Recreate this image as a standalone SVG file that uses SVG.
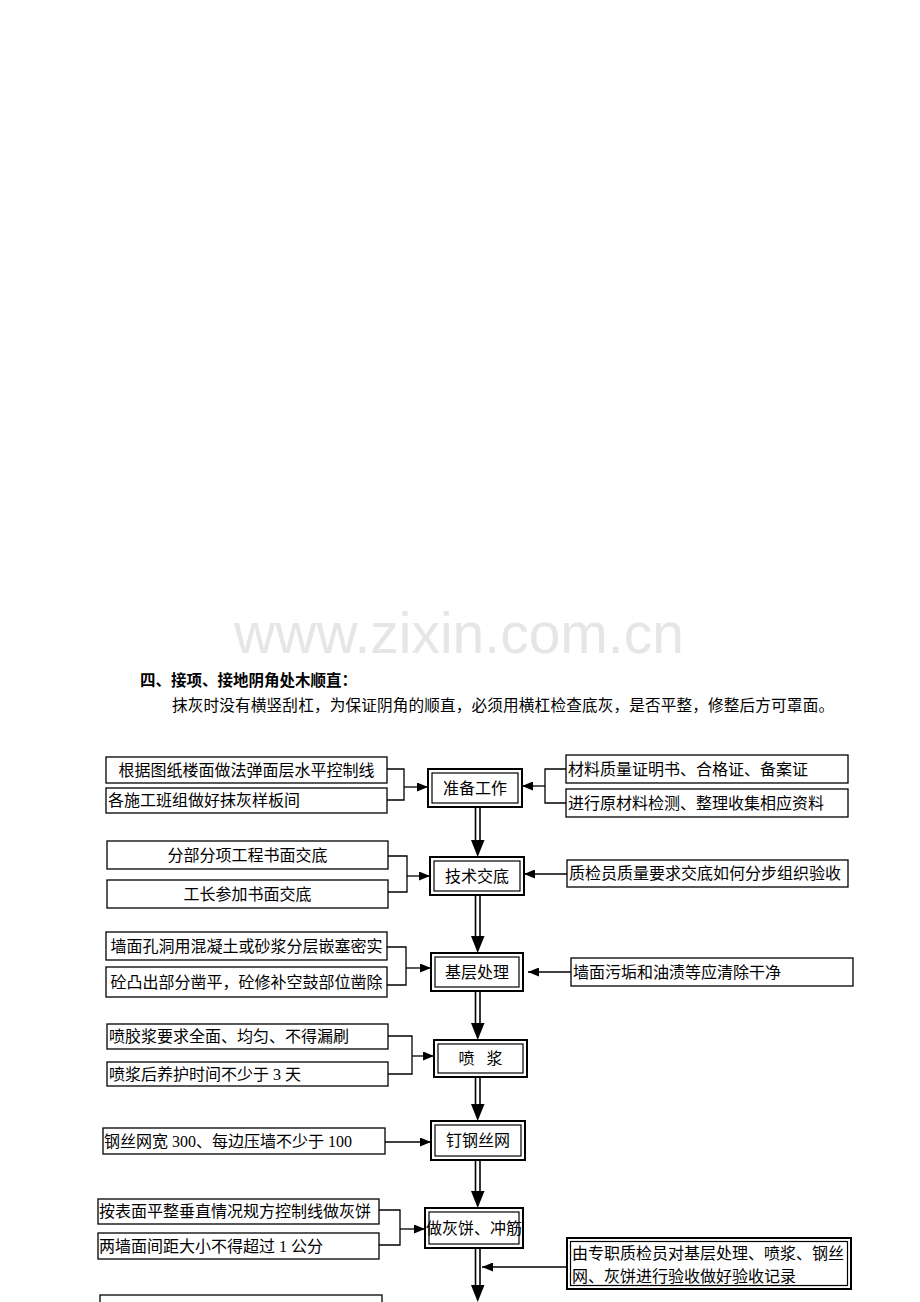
<svg xmlns="http://www.w3.org/2000/svg" width="920" height="1302" viewBox="0 0 920 1302">
<style>
  .bx{fill:#fff;stroke:#000;stroke-width:1.3}
  .ob{fill:#fff;stroke:#000;stroke-width:2}
  .ib{fill:none;stroke:#000;stroke-width:1.2}
  .t{font-family:"Liberation Serif","Noto Sans CJK SC",serif;font-size:16px;fill:#000}
  .c{text-anchor:middle}
  .ln{fill:none;stroke:#000;stroke-width:1.3}
  .dl{stroke:#000;stroke-width:1.6}
</style>
<defs>
  <marker id="ah" markerUnits="userSpaceOnUse" markerWidth="11" markerHeight="9" refX="11" refY="4.5" orient="auto">
    <path d="M0,0 L11,4.5 L0,9 z" fill="#000"/>
  </marker>
</defs>
<rect width="920" height="1302" fill="#fff"/>
<text x="459" y="653" text-anchor="middle" font-family="Liberation Sans, Arial, sans-serif" font-size="57" fill="#e6e6e6">www.zixin.com.cn</text>
<text x="140" y="686" font-family="Noto Sans CJK SC, sans-serif" font-weight="bold" font-size="15.5">四、接项、接地阴角处木顺直：</text>
<text x="172" y="711" class="t" style="font-size:15.6px" textLength="662" lengthAdjust="spacing">抹灰时没有横竖刮杠，为保证阴角的顺直，必须用横杠检查底灰，是否平整，修整后方可罩面。</text>

<g id="connectors">
  <polyline class="ln" points="387,769 404,769 404,800 387,800"/>
  <line class="ln" x1="404" y1="787" x2="428" y2="787" marker-end="url(#ah)"/>
  <polyline class="ln" points="566,769 545,769 545,803 566,803"/>
  <line class="ln" x1="545" y1="786" x2="522" y2="786" marker-end="url(#ah)"/>
  <polyline class="ln" points="388,856 407,856 407,892 388,892"/>
  <line class="ln" x1="407" y1="876" x2="430" y2="876" marker-end="url(#ah)"/>
  <line class="ln" x1="567" y1="874" x2="524" y2="874" marker-end="url(#ah)"/>
  <polyline class="ln" points="387,947 406,947 406,985 387,985"/>
  <line class="ln" x1="406" y1="968" x2="431" y2="968" marker-end="url(#ah)"/>
  <line class="ln" x1="571" y1="972" x2="528" y2="972" marker-end="url(#ah)"/>
  <polyline class="ln" points="388,1036 412,1036 412,1074 388,1074"/>
  <line class="ln" x1="412" y1="1056" x2="434" y2="1056" marker-end="url(#ah)"/>
  <line class="ln" x1="385" y1="1142" x2="431" y2="1142" marker-end="url(#ah)"/>
  <polyline class="ln" points="379,1210 400,1210 400,1245 379,1245"/>
  <line class="ln" x1="400" y1="1229" x2="425" y2="1229" marker-end="url(#ah)"/>
  <line class="ln" x1="567" y1="1267" x2="482" y2="1267" marker-end="url(#ah)"/>
  <g>
    <line class="dl" x1="475.5" y1="807" x2="475.5" y2="841"/><line class="dl" x1="480" y1="807" x2="480" y2="841"/>
    <polygon points="471,840 484.5,840 477.7,857" fill="#000"/>
    <line class="dl" x1="475.5" y1="895" x2="475.5" y2="937"/><line class="dl" x1="480" y1="895" x2="480" y2="937"/>
    <polygon points="471,936 484.5,936 477.7,953" fill="#000"/>
    <line class="dl" x1="475.5" y1="991" x2="475.5" y2="1024"/><line class="dl" x1="480" y1="991" x2="480" y2="1024"/>
    <polygon points="471,1023 484.5,1023 477.7,1040" fill="#000"/>
    <line class="dl" x1="475.5" y1="1077" x2="475.5" y2="1105"/><line class="dl" x1="480" y1="1077" x2="480" y2="1105"/>
    <polygon points="471,1104 484.5,1104 477.7,1121" fill="#000"/>
    <line class="dl" x1="475.5" y1="1160" x2="475.5" y2="1192"/><line class="dl" x1="480" y1="1160" x2="480" y2="1192"/>
    <polygon points="471,1191 484.5,1191 477.7,1208" fill="#000"/>
    <line class="dl" x1="475.5" y1="1248" x2="475.5" y2="1286"/><line class="dl" x1="480" y1="1248" x2="480" y2="1286"/>
    <polygon points="471,1285 484.5,1285 477.7,1302" fill="#000"/>
  </g>
</g>

<g id="n-prep"><rect class="ob" x="428" y="769" width="94" height="38"/><rect class="ib" x="432" y="773" width="86" height="30"/><text class="t c" x="475" y="793.5">准备工作</text></g>
<g id="n-tech"><rect class="ob" x="430" y="857" width="94" height="38"/><rect class="ib" x="434" y="861" width="86" height="30"/><text class="t c" x="477" y="881.5">技术交底</text></g>
<g id="n-base"><rect class="ob" x="431" y="953" width="92" height="38"/><rect class="ib" x="435" y="957" width="84" height="30"/><text class="t c" x="477" y="977.5">基层处理</text></g>
<g id="n-spray"><rect class="ob" x="434" y="1040" width="93" height="37"/><rect class="ib" x="438" y="1044" width="85" height="29"/><text class="t c" x="480.5" y="1064" word-spacing="8">喷 浆</text></g>
<g id="n-mesh"><rect class="ob" x="431" y="1121" width="94" height="39"/><rect class="ib" x="435" y="1125" width="86" height="31"/><text class="t c" x="478" y="1146">钉钢丝网</text></g>
<g id="n-cake"><rect class="ob" x="425" y="1208" width="98" height="40"/><rect class="ib" x="429" y="1212" width="90" height="32"/><text class="t c" x="474" y="1233.5">做灰饼、冲筋</text></g>

<g id="l1a"><rect class="bx" x="106" y="757" width="281" height="26"/><text class="t c" x="246.5" y="775.5">根据图纸楼面做法弹面层水平控制线</text></g>
<g id="l1b"><rect class="bx" x="106" y="788" width="281" height="25"/><text class="t" x="108" y="806">各施工班组做好抹灰样板间</text></g>
<g id="r1a"><rect class="bx" x="566" y="755" width="282" height="28"/><text class="t" x="568" y="774.5">材料质量证明书、合格证、备案证</text></g>
<g id="r1b"><rect class="bx" x="566" y="789" width="282" height="28"/><text class="t" x="568" y="808.5">进行原材料检测、整理收集相应资料</text></g>

<g id="l2a"><rect class="bx" x="107" y="841" width="281" height="28"/><text class="t c" x="247.5" y="860.5">分部分项工程书面交底</text></g>
<g id="l2b"><rect class="bx" x="107" y="880" width="281" height="28"/><text class="t c" x="247.5" y="899.5">工长参加书面交底</text></g>
<g id="r2"><rect class="bx" x="567" y="860" width="281" height="27"/><text class="t" x="569" y="879">质检员质量要求交底如何分步组织验收</text></g>

<g id="l3a"><rect class="bx" x="106" y="932" width="281" height="28"/><text class="t c" x="246.5" y="951.5">墙面孔洞用混凝土或砂浆分层嵌塞密实</text></g>
<g id="l3b"><rect class="bx" x="106" y="967" width="281" height="30"/><text class="t c" x="246.5" y="987.5">砼凸出部分凿平，砼修补空鼓部位凿除</text></g>
<g id="r3"><rect class="bx" x="571" y="958" width="282" height="28"/><text class="t" x="573" y="977.5">墙面污垢和油渍等应清除干净</text></g>

<g id="l4a"><rect class="bx" x="107" y="1024" width="281" height="25"/><text class="t" x="109" y="1042">喷胶浆要求全面、均匀、不得漏刷</text></g>
<g id="l4b"><rect class="bx" x="107" y="1062" width="281" height="24"/><text class="t" x="109" y="1079.5">喷浆后养护时间不少于 3 天</text></g>

<g id="l5"><rect class="bx" x="103" y="1128" width="282" height="26"/><text class="t" x="104" y="1146.5">钢丝网宽 300、每边压墙不少于 100</text></g>

<g id="l6a"><rect class="bx" x="98" y="1199" width="281" height="25"/><text class="t" x="99" y="1217">按表面平整垂直情况规方控制线做灰饼</text></g>
<g id="l6b"><rect class="bx" x="98" y="1233" width="281" height="26"/><text class="t" x="99" y="1251.5">两墙面间距大小不得超过 1 公分</text></g>
<g id="r6"><rect class="ob" x="567" y="1238" width="284" height="51"/><rect class="ib" x="570.5" y="1241.5" width="277" height="44"/><text class="t" x="572" y="1259">由专职质检员对基层处理、喷浆、钢丝</text><text class="t" x="572" y="1282">网、灰饼进行验收做好验收记录</text></g>

<g id="l7"><rect class="bx" x="100" y="1295" width="282" height="40"/></g>
</svg>
